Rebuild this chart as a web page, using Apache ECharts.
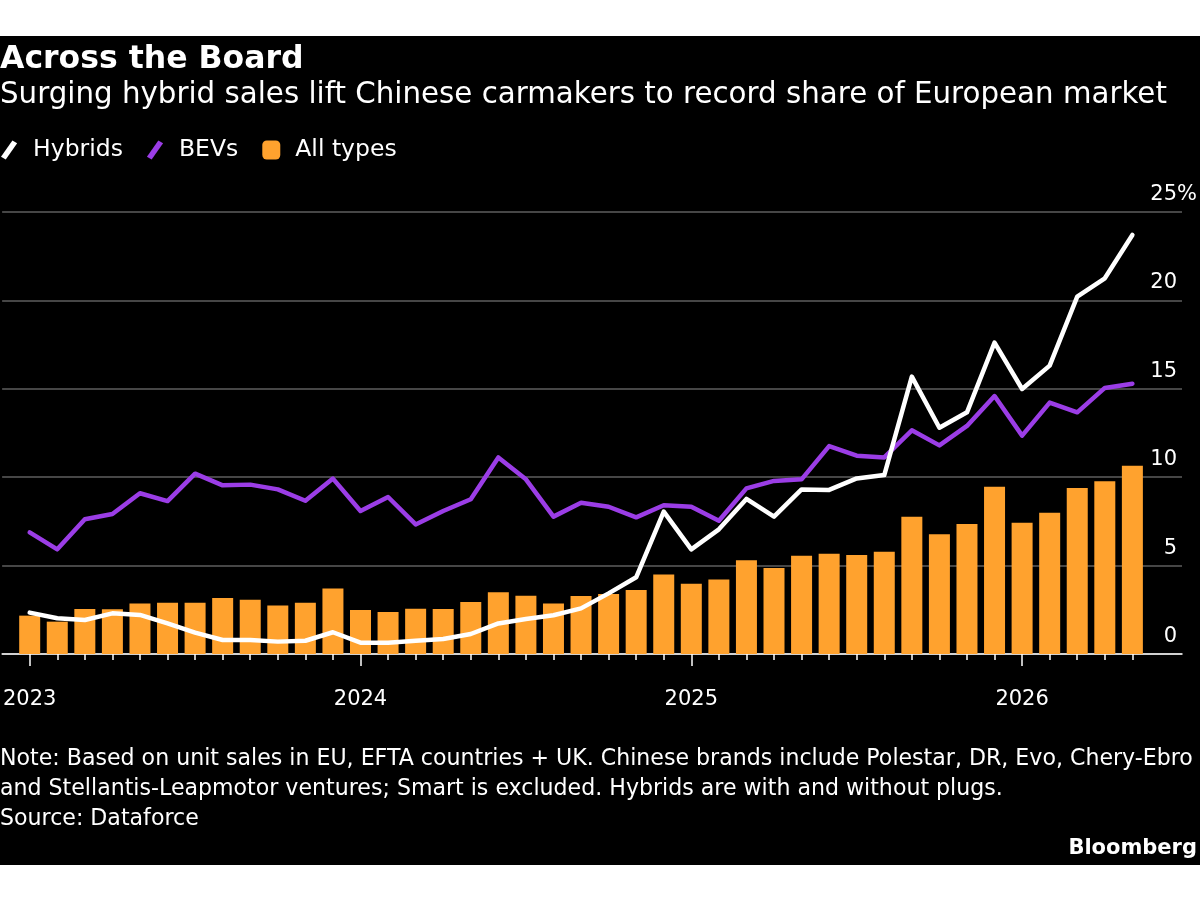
<!DOCTYPE html>
<html>
<head>
<meta charset="utf-8">
<script src="https://cdn.jsdelivr.net/npm/echarts@6/dist/echarts.min.js"></script>
<style>
html,body{margin:0;padding:0;background:#ffffff;}
#chart{position:absolute;left:0;top:36px;width:1200px;height:829px;background:#000;}
</style>
</head>
<body>
<div id="chart"></div>
<script>
// Monthly, Jan 2023 .. May 2026 (share of European market, %)
const months = ['2023-01','2023-02','2023-03','2023-04','2023-05','2023-06','2023-07','2023-08','2023-09','2023-10','2023-11','2023-12',
  '2024-01','2024-02','2024-03','2024-04','2024-05','2024-06','2024-07','2024-08','2024-09','2024-10','2024-11','2024-12',
  '2025-01','2025-02','2025-03','2025-04','2025-05','2025-06','2025-07','2025-08','2025-09','2025-10','2025-11','2025-12',
  '2026-01','2026-02','2026-03','2026-04','2026-05'];
const hybrids = [2.34,2.02,1.92,2.30,2.21,1.73,1.21,0.79,0.79,0.70,0.75,1.23,
  0.64,0.64,0.75,0.85,1.13,1.73,1.98,2.19,2.58,3.43,4.34,8.05,
  5.92,7.05,8.77,7.77,9.31,9.28,9.93,10.12,15.69,12.80,13.67,17.61,
  14.99,16.31,20.21,21.25,23.70];
const bevs = [6.88,5.92,7.62,7.92,9.09,8.65,10.20,9.54,9.58,9.31,8.67,9.92,
  8.09,8.88,7.33,8.09,8.75,11.12,9.88,7.77,8.56,8.33,7.73,8.41,
  8.33,7.54,9.37,9.79,9.88,11.76,11.22,11.12,12.65,11.80,12.90,14.59,
  12.35,14.22,13.67,15.05,15.29];
const allTypes = [2.17,1.83,2.55,2.53,2.85,2.90,2.90,3.17,3.07,2.75,2.90,3.71,
  2.49,2.38,2.56,2.55,2.94,3.49,3.30,2.85,3.28,3.39,3.62,4.50,
  3.98,4.22,5.30,4.86,5.56,5.67,5.60,5.79,7.77,6.77,7.35,9.46,
  7.43,7.99,9.39,9.77,10.65];
const yTicks = [0,5,10,15,20,25];
const yearLabels = ['2023','2024','2025','2026'];

const FONT = 'DejaVu Sans';
const monthIdx = months.map((m,i)=>i);
const yearIdx = months.map((m,i)=>m.endsWith('-01')?i:null).filter(v=>v!==null);
const toXY = arr => arr.map((v,i)=>[i,v]);

const chart = echarts.init(document.getElementById('chart'), null, {renderer:'canvas'});
const slash = 'path://M0,17 L12,0 L17,3 L5,20 Z';
chart.setOption({
  backgroundColor:'#000',
  animation:false,
  textStyle:{fontFamily:FONT},
  title:[
    {text:'Across the Board', left:0, top:6, padding:0, textStyle:{color:'#fff', fontSize:31.5, fontWeight:'bold', fontFamily:FONT, lineHeight:36}},
    {text:'Surging hybrid sales lift Chinese carmakers to record share of European market', left:0, top:41, padding:0,
      textStyle:{color:'#fff', fontSize:29.3, fontWeight:'normal', fontFamily:FONT, lineHeight:36}},
    {text:'Note: Based on unit sales in EU, EFTA countries + UK. Chinese brands include Polestar, DR, Evo, Chery-Ebro\nand Stellantis-Leapmotor ventures; Smart is excluded. Hybrids are with and without plugs.\nSource: Dataforce',
      left:0, top:708, padding:0, textStyle:{color:'#fff', fontSize:22.1, fontWeight:'normal', fontFamily:FONT, lineHeight:30}},
    {text:'Bloomberg', right:3, top:800, padding:0, textStyle:{color:'#fff', fontSize:21, fontWeight:'bold', fontFamily:FONT, lineHeight:26}}
  ],
  legend:{
    left:1, top:102, padding:0, itemWidth:18, itemHeight:19, itemGap:24,
    textStyle:{color:'#fff', fontSize:23.5, fontFamily:FONT, padding:[0,0,0,10]},
    data:[
      {name:'Hybrids', icon:slash},
      {name:'BEVs', icon:slash},
      {name:'All types', icon:'roundRect'}
    ]
  },
  grid:{left:-1.7, right:17, top:176, bottom:211, containLabel:false},
  xAxis:[
    {type:'value', min:-1, max:41.8, interval:1, position:'bottom',
      axisLine:{show:true, onZero:false, lineStyle:{color:'#fff', width:1.5}},
      axisTick:{show:true, customValues:monthIdx, length:6, lineStyle:{color:'#fff', width:1.5}},
      axisLabel:{show:false}, splitLine:{show:false}},
    {type:'value', min:-1, max:41.8, interval:1, position:'bottom',
      axisLine:{show:false, onZero:false},
      axisTick:{show:true, customValues:yearIdx, length:12, lineStyle:{color:'#fff', width:1.5}},
      axisLabel:{show:true, customValues:yearIdx, margin:35, color:'#fff', fontSize:21, fontFamily:FONT,
        formatter:v=>yearLabels[yearIdx.indexOf(v)]},
      splitLine:{show:false}}
  ],
  yAxis:{type:'value', position:'right', min:0, max:25, interval:5,
    axisLine:{show:false}, axisTick:{show:false},
    splitLine:{show:true, lineStyle:{color:'#5e5e5e', width:1.5}},
    axisLabel:{inside:true, margin:-15, align:'right', color:'#fff', fontSize:21, fontFamily:FONT, verticalAlign:'bottom', padding:[0,0,7,0],
      customValues:yTicks,
      formatter:v=> v===25 ? '{n|25%}' : '{n|'+v+'}{h|%}',
      rich:{n:{color:'#fff', fontSize:21, fontFamily:FONT}, h:{color:'rgba(0,0,0,0)', fontSize:21, fontFamily:FONT}}
    }
  },
  series:[
    {name:'All types', type:'bar', xAxisIndex:0, data:toXY(allTypes), barWidth:21,
      itemStyle:{color:'#FFA22E'}, z:2},
    {name:'BEVs', type:'line', xAxisIndex:0, data:toXY(bevs), showSymbol:false, symbol:'none',
      lineStyle:{color:'#9B3DE6', width:4.5, join:'round', cap:'round'}, itemStyle:{color:'#9B3DE6'}, z:3},
    {name:'Hybrids', type:'line', xAxisIndex:0, data:toXY(hybrids), showSymbol:false, symbol:'none',
      lineStyle:{color:'#ffffff', width:4.5, join:'round', cap:'round'}, itemStyle:{color:'#ffffff'}, z:4}
  ]
});
</script>
</body>
</html>
